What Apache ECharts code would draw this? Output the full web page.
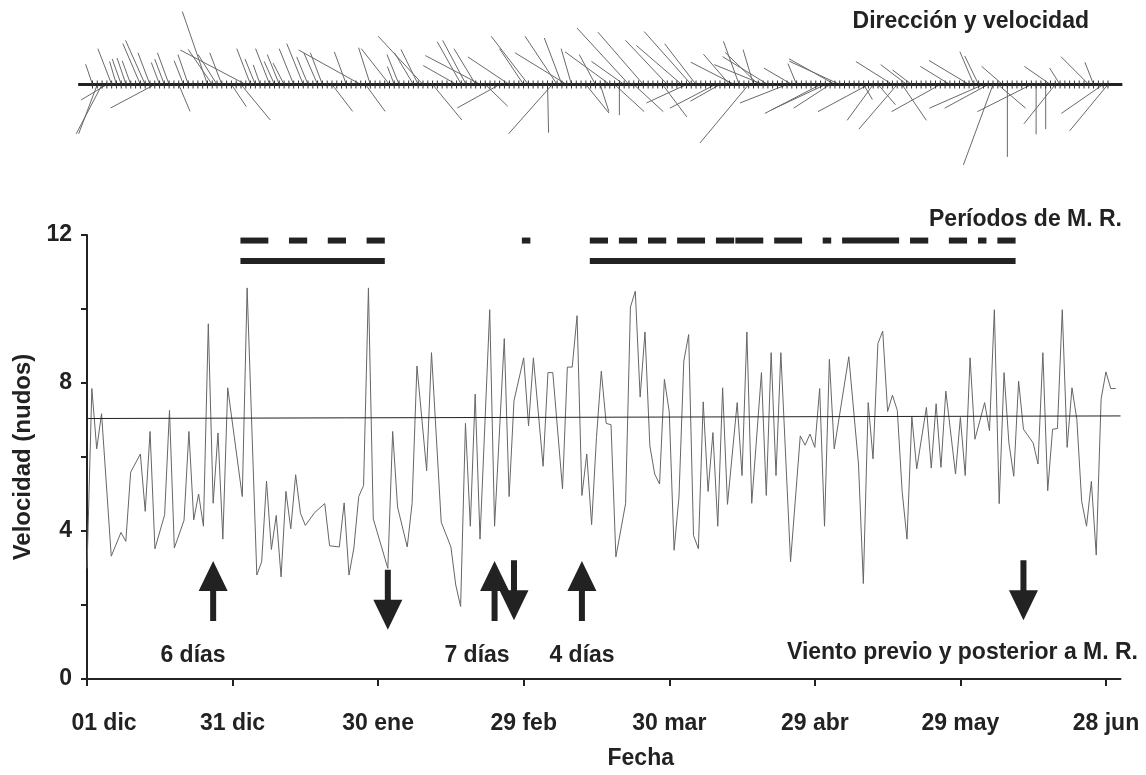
<!DOCTYPE html>
<html><head><meta charset="utf-8">
<script src="https://cdn.jsdelivr.net/npm/echarts@6/dist/echarts.min.js"></script>
<style>html,body{margin:0;padding:0;background:#fff}#c{width:1146px;height:775px}</style>
</head><body><div id="c"></div>
<script>
// ---------- DATA ----------
const tickDays   = [0, 30, 60, 90, 120, 150, 180, 210];
const tickLabels = ['01 dic', '31 dic', '30 ene', '29 feb', '30 mar', '29 abr', '29 may', '28 jun'];

// daily wind speed (knots), day 0 = 01 dic
const speedDays = [0,1,2,3,5,7,8,9,11,12,13,14,16,17,18,20,21,22,23,24,25,26,27,28,29,32,33,35,36,37,38,39,40,41,42,43,44,45,47,49,50,52,53,54,55,56,57,58,59,62,63,64,66,67,68,70,71,73,75,76,77,78,79,80,81,83,84,86,87,88,90,91,92,94,95,96,98,99,100,101,102,103,104,105,106,107,108,109,111,112,113,114,115,116,117,118,119,120,121,122,123,124,125,126,127,128,129,130,131,132,134,135,136,137,139,140,141,142,143,145,147,148,149,150,151,152,153,154,157,159,160,161,162,163,164,165,166,167,168,169,170,171,173,174,175,176,177,179,180,181,182,183,185,186,187,188,189,190,191,192,193,195,196,197,198,199,200,201,202,203,204,205,206,207,208,209,210,211,212];
const speeds = [2.99,7.85,6.22,7.17,3.32,3.96,3.72,5.59,6.08,4.53,6.69,3.52,4.44,7.26,3.54,4.29,6.69,4.30,5.00,4.13,9.60,4.75,6.65,3.78,7.87,4.93,10.57,2.81,3.17,5.35,3.50,4.42,2.76,5.07,4.06,5.52,4.48,4.15,4.51,4.74,3.60,3.57,4.76,2.81,3.54,4.93,5.23,10.57,4.33,2.99,6.69,4.65,3.57,4.74,8.46,5.63,8.82,4.24,3.57,2.54,1.96,6.91,4.13,7.70,3.78,9.98,4.13,9.20,4.93,7.52,8.68,6.84,8.68,5.75,8.28,8.28,5.14,8.43,8.43,9.82,4.96,6.08,4.17,6.53,8.32,6.91,6.87,3.30,4.74,10.05,10.48,7.62,9.38,6.30,5.54,5.27,8.10,7.22,3.48,4.91,8.59,9.31,3.88,3.52,7.49,5.07,6.66,4.13,7.87,4.72,7.47,5.50,9.38,4.75,8.28,4.96,8.82,5.50,8.82,3.17,6.57,6.32,6.62,6.26,7.85,4.13,8.64,6.22,8.71,5.81,2.58,7.47,5.95,9.07,9.40,7.23,7.67,7.26,5.07,3.78,7.09,5.68,7.34,5.70,7.44,5.72,7.78,5.54,7.07,5.50,8.68,6.48,7.47,6.71,9.98,4.74,8.28,6.38,5.48,8.05,6.75,6.38,5.81,8.82,5.09,6.75,6.77,9.98,6.26,7.87,7.02,4.80,4.13,5.34,3.35,7.56,8.30,7.85,7.85];

// mean line
const meanDays   = [0, 213];
const meanValues = [7.04, 7.11];

// wind sticks: day, u (east, knots), v (north, knots)
const stickDays = [0,1,2,3,4,5,6,7,8,10,11,12,13,14,15,16,18,19,20,24,25,26,27,29,31,32,33,34,35,37,38,39,40,42,44,45,47,48,50,53,56,57,58,62,63,64,67,68,69,71,76,77,78,80,81,82,85,87,90,91,95,96,97,98,99,100,103,105,106,108,109,110,111,112,113,115,119,120,123,124,125,126,130,131,133,134,135,137,138,139,140,141,145,146,147,152,153,154,155,156,161,162,163,164,167,168,169,170,171,177,179,183,184,185,186,187,188,189,190,191,196,197,199,200,201,202,208,209,211,212];
const stickU = [-0.98,-2.66,-3.69,-3.69,-1.97,-0.98,-1.28,-1.28,-1.23,-2.51,-2.80,-1.72,-6.30,-1.18,-1.38,-1.67,1.62,-1.33,-1.48,-3.59,-3.44,-2.71,-1.72,2.12,4.18,-9.35,-1.97,-1.48,-0.98,-2.02,-1.48,-1.72,-1.57,-2.07,-2.36,-1.62,-1.97,-1.72,2.95,-1.72,-8.86,2.80,-1.67,-4.03,-0.98,-1.72,-2.71,-2.46,-6.40,4.18,-4.77,-3.44,-3.35,-3.10,-7.87,3.20,-6.05,-5.90,-3.44,-5.31,0.15,-6.25,-4.58,-2.51,-7.38,-1.48,3.30,-2.31,1.24,-6.40,4.23,0.00,-4.67,-7.43,4.23,-6.49,3.48,-5.97,-6.47,-5.72,-6.72,-4.48,-6.47,-4.23,-3.73,-6.22,-2.24,-6.97,-1.49,-4.73,-6.97,-6.47,-6.72,-3.98,-1.24,-7.96,-7.71,-5.22,-6.57,-7.21,1.24,-7.21,-3.73,2.49,-5.22,-5.47,3.48,-3.73,-2.74,-6.97,-4.23,-5.72,-1.99,-1.99,-7.71,-6.22,-4.23,3.98,-2.99,0.00,-7.71,0.00,0.00,-3.73,-4.48,-1.49,-3.98,-1.24,-5.97,-5.47];
const stickV = [2.90,-7.04,-7.04,-2.21,5.12,3.30,3.64,3.79,3.39,5.85,6.30,4.53,-3.35,3.15,3.64,4.53,-3.84,3.39,4.28,10.43,5.02,4.28,4.53,-3.15,-5.07,4.92,5.12,3.64,2.80,5.12,3.30,4.28,3.05,5.12,5.85,3.94,4.53,4.53,-3.84,4.67,4.92,-3.84,5.26,5.12,2.56,4.28,4.53,5.02,6.89,-5.07,2.71,6.10,6.30,5.12,4.13,-3.10,-3.35,3.94,5.12,6.89,-6.89,-7.04,6.89,6.64,4.53,5.12,-4.08,4.28,-3.88,4.67,-3.88,-4.38,3.30,8.07,-3.88,7.48,-4.63,6.32,5.57,-2.64,7.56,5.82,-3.38,-2.39,4.33,3.18,6.17,-8.36,4.98,4.58,2.84,3.98,-2.64,2.34,2.99,-4.13,-3.63,-3.38,3.68,3.33,-2.14,-3.88,-5.12,-2.89,3.28,-6.37,-5.12,2.84,2.09,-3.88,2.59,3.43,4.68,4.08,-3.38,-3.38,-11.49,-3.38,2.59,-10.35,-3.88,-7.11,-6.37,2.59,-5.62,2.34,3.98,3.18,-4.13,-6.62];
const nDays = 213;

// M. R. periods [first day, last day]
const mrDashed = [[32,37],[42,45],[50,53],[58,61],[90,91],[104,107],[110,113],[116,119],[122,127],[130,133],[134,139],[142,147],[152,153],[156,167],[170,173],[178,181],[184,185],[188,191]];
const mrSolid  = [[32,61],[104,191]];

// wind before / after M. R. (arrows)
const arrowDays = [26, 62, 84, 88, 102, 193];
const arrowDirs = ['up', 'down', 'up', 'down', 'up', 'down'];

// ---------- DRAWING ----------
const FONT = '"Liberation Sans", Arial, sans-serif';
const INK = '#222';
const STICK_PX_PER_KNOT = 7;
const arrowTopValue = [3.19, 2.95, 3.19, 3.21, 3.19, 3.21];

const chart = echarts.init(document.getElementById('c'), null, {renderer: 'canvas'});
const txt = (text, x, y, align, size) => ({
  type: 'text', x: x, y: y, silent: true,
  style: {text: text, fill: INK, font: 'bold ' + (size || 23) + 'px ' + FONT,
          textAlign: align, textVerticalAlign: 'middle', align: align, verticalAlign: 'middle'}
});
const labelStyle = {color: INK, fontSize: 23, fontWeight: 'bold', fontFamily: FONT};

const option = {
  animation: false,
  backgroundColor: '#fff',
  grid: [
    {left: 87, top: 235, width: 1033.5, height: 447},
    {left: 78.13, top: 0, width: 1044.2, height: 169}
  ],
  xAxis: [
    {gridIndex: 0, type: 'value', min: 0, max: 213, interval: 30,
     axisLine: {lineStyle: {color: INK, width: 2}},
     axisTick: {length: 7, customValues: tickDays, lineStyle: {color: INK, width: 2}},
     axisLabel: Object.assign({customValues: tickDays, margin: 33,
                 formatter: v => { const i = tickDays.indexOf(v); if (i < 0) return ''; return i === 0 ? '{first|' + tickLabels[i] + '}' : tickLabels[i]; },
                 rich: {first: Object.assign({padding: [0, 0, 0, 34]}, labelStyle)}}, labelStyle),
     splitLine: {show: false},
     name: 'Fecha', nameLocation: 'middle', nameGap: 68,
     nameTextStyle: Object.assign({padding: [0, 0, 0, 74]}, labelStyle)},
    {gridIndex: 1, type: 'value', min: -3, max: 215, show: false}
  ],
  yAxis: [
    {gridIndex: 0, type: 'value', min: 0, max: 12, interval: 2,
     axisLine: {show: true, lineStyle: {color: INK, width: 2}},
     axisTick: {show: true, length: 6, lineStyle: {color: INK, width: 2}},
     axisLabel: Object.assign({margin: 15, formatter: v => (v % 4 === 0 ? String(v) : '')}, labelStyle),
     splitLine: {show: false},
     name: 'Velocidad (nudos)', nameLocation: 'middle', nameGap: 52, nameRotate: 90,
     nameTextStyle: {color: INK, fontSize: 24, fontWeight: 'bold', fontFamily: FONT}},
    {gridIndex: 1, type: 'value', min: -1, max: 1, show: false}
  ],
  graphic: [
    txt('Dirección y velocidad', 1089, 22, 'right'),
    txt('Períodos de M. R.', 1122, 219.5, 'right'),
    txt('6 días', 193, 656, 'center'),
    txt('7 días', 477, 656, 'center'),
    txt('4 días', 582, 656, 'center'),
    txt('Viento previo y posterior a M. R.', 1138, 653, 'right')
  ],
  series: [
    { // sticks
      type: 'custom', xAxisIndex: 1, yAxisIndex: 1, z: 2,
      data: stickDays.map((d, i) => [d, stickU[i], stickV[i]]),
      encode: {x: 0},
      renderItem: (params, api) => {
        const p = api.coord([api.value(0), 0]);
        return {type: 'line',
          shape: {x1: p[0], y1: p[1], x2: p[0] + api.value(1) * STICK_PX_PER_KNOT, y2: p[1] - api.value(2) * STICK_PX_PER_KNOT},
          style: {stroke: '#6a6a6a', lineWidth: 1}};
      }
    },
    { // stick baseline with daily ticks
      type: 'custom', xAxisIndex: 1, yAxisIndex: 1, z: 3,
      data: [[0]], encode: {x: 0},
      renderItem: (params, api) => {
        const a = api.coord([-3, 0]);
        const b = api.coord([215, 0]);
        const children = [{type: 'rect', shape: {x: a[0], y: a[1] - 1.5, width: b[0] - a[0], height: 3}, style: {fill: INK}}];
        for (let d = 0; d < nDays; d++) {
          const p = api.coord([d, 0]);
          children.push({type: 'line', shape: {x1: p[0], y1: p[1] - 4, x2: p[0], y2: p[1] + 4}, style: {stroke: '#333', lineWidth: 1}});
        }
        return {type: 'group', children: children};
      }
    },
    { // speed
      type: 'line', xAxisIndex: 0, yAxisIndex: 0, z: 2,
      data: speedDays.map((d, i) => [d, speeds[i]]),
      showSymbol: false, symbol: 'none',
      lineStyle: {color: '#666', width: 1}
    },
    { // mean
      type: 'line', xAxisIndex: 0, yAxisIndex: 0, z: 3,
      data: meanDays.map((d, i) => [d, meanValues[i]]),
      showSymbol: false, symbol: 'none',
      lineStyle: {color: INK, width: 1}
    },
    { // M.R. periods
      type: 'custom', xAxisIndex: 0, yAxisIndex: 0, z: 4,
      data: mrDashed.map(p => [p[0], p[1], 0]).concat(mrSolid.map(p => [p[0], p[1], 1])),
      encode: {x: [0, 1]},
      renderItem: (params, api) => {
        const yv = api.value(2) === 0 ? 11.85 : 11.30;
        const a = api.coord([api.value(0) - 0.5, yv]);
        const b = api.coord([api.value(1) + 0.5, yv]);
        return {type: 'rect', shape: {x: a[0] + 0.6, y: a[1] - 3, width: b[0] - a[0] - 1.2, height: 6}, style: {fill: INK}};
      }
    },
    { // arrows
      type: 'custom', xAxisIndex: 0, yAxisIndex: 0, z: 5,
      data: arrowDays.map((d, i) => [d, arrowDirs[i] === 'up' ? 1 : -1, arrowTopValue[i]]),
      encode: {x: 0},
      renderItem: (params, api) => {
        const t = api.coord([api.value(0), api.value(2)]);
        const x = t[0], y = t[1];
        const hw = 14.5, sw = 3, hl = 30, L = 60;
        let pts;
        if (api.value(1) > 0) {
          pts = [[x, y], [x + hw, y + hl], [x + sw, y + hl], [x + sw, y + L], [x - sw, y + L], [x - sw, y + hl], [x - hw, y + hl]];
        } else {
          pts = [[x - sw, y], [x + sw, y], [x + sw, y + hl], [x + hw, y + hl], [x, y + L], [x - hw, y + hl], [x - sw, y + hl]];
        }
        return {type: 'polygon', shape: {points: pts}, style: {fill: INK}};
      }
    }
  ]
};
chart.setOption(option);
</script>
</body></html>
